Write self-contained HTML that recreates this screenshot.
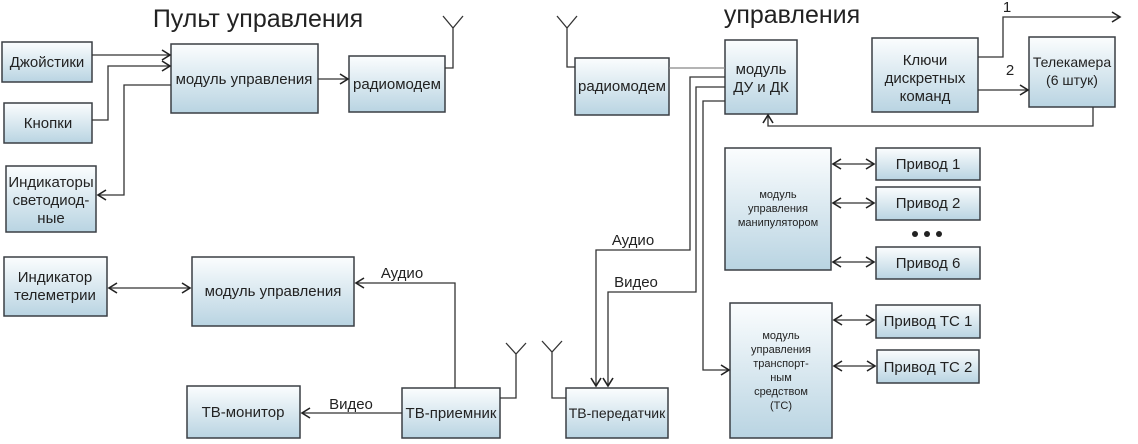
<!DOCTYPE html>
<html><head><meta charset="utf-8"><style>body{margin:0;background:#fff}svg{display:block}text{font-family:"Liberation Sans",sans-serif;fill:#222}</style></head><body>
<svg width="1138" height="444" viewBox="0 0 1138 444" xmlns="http://www.w3.org/2000/svg">
<defs>
<linearGradient id="g" x1="0" y1="0" x2="0" y2="1"><stop offset="0" stop-color="#fbfdfe"/><stop offset="1" stop-color="#b9d4e2"/></linearGradient>
<marker id="a" markerWidth="12" markerHeight="12" refX="10" refY="6" orient="auto" markerUnits="userSpaceOnUse"><path d="M2,1 L10,6 L2,11" fill="none" stroke="#222" stroke-width="1.6"/></marker>
<marker id="s" markerWidth="12" markerHeight="12" refX="2" refY="6" orient="auto" markerUnits="userSpaceOnUse"><path d="M10,1 L2,6 L10,11" fill="none" stroke="#222" stroke-width="1.6"/></marker>
</defs>
<g stroke="#3a3f44" stroke-width="1.5" fill="url(#g)">
<rect x="2" y="42" width="90" height="40"/><rect x="4" y="103" width="88" height="40"/><rect x="6" y="166" width="90" height="66"/>
<rect x="171" y="44" width="147" height="69"/><rect x="349" y="56" width="96" height="56"/>
<rect x="575" y="58" width="94" height="57"/><rect x="725" y="40" width="72" height="74"/>
<rect x="872" y="38" width="106" height="74"/><rect x="1029" y="37" width="86" height="70"/>
<rect x="725" y="148" width="106" height="122"/>
<rect x="876" y="148" width="104" height="32"/><rect x="876" y="187" width="104" height="33"/><rect x="876" y="247" width="104" height="32"/>
<rect x="730" y="303" width="102" height="135"/>
<rect x="876" y="305" width="104" height="33"/><rect x="877" y="350" width="102" height="33"/>
<rect x="4" y="257" width="103" height="59"/><rect x="192" y="257" width="162" height="69"/>
<rect x="566" y="388" width="102" height="50"/><rect x="402" y="388" width="98" height="50"/><rect x="187" y="386" width="113" height="52"/>
</g>
<g stroke="#333" stroke-width="1.3" fill="none">
<path d="M92,55 H170" marker-end="url(#a)"/>
<path d="M92,120 H108 V66 H170" marker-end="url(#a)"/>
<path d="M171,85 H124 V195 H98" marker-end="url(#a)"/>
<path d="M318,79 H348" marker-end="url(#a)"/>
<path d="M445,68 H453 V28 M443,16 L453,28 L463,16"/>
<path d="M575,67 H567 V28 M557,16 L567,28 L577,16"/>
<path d="M669,68 H725" stroke="#888"/>
<path d="M725,77 H690 V250 H596 V386" marker-end="url(#a)"/>
<path d="M725,87 H696 V292 H608 V386" marker-end="url(#a)"/>
<path d="M725,101 H703 V370 H729" marker-end="url(#a)"/>
<path d="M978,57 H1003 V17 H1120" marker-end="url(#a)"/>
<path d="M978,90 H1028" marker-end="url(#a)"/>
<path d="M1093,107 V126 H768 V115" marker-end="url(#a)"/>
<path d="M833,164 H874" marker-start="url(#s)" marker-end="url(#a)"/>
<path d="M833,203 H874" marker-start="url(#s)" marker-end="url(#a)"/>
<path d="M833,262 H874" marker-start="url(#s)" marker-end="url(#a)"/>
<path d="M834,320 H874" marker-start="url(#s)" marker-end="url(#a)"/>
<path d="M834,366 H875" marker-start="url(#s)" marker-end="url(#a)"/>
<path d="M109,288 H190" marker-start="url(#s)" marker-end="url(#a)"/>
<path d="M455,388 V283 H356" marker-end="url(#a)"/>
<path d="M402,413 H302" marker-end="url(#a)"/>
<path d="M500,398 H516 V354 M506,343 L516,354 L526,343"/>
<path d="M566,398 H552 V352 M542,341 L552,352 L562,341"/>
</g>
<g fill="#222"><circle cx="915" cy="234" r="3"/><circle cx="927" cy="234" r="3"/><circle cx="939" cy="234" r="3"/></g>
<g font-size="15" text-anchor="middle">
<text x="258" y="27" font-size="25">Пульт управления</text>
<text x="792" y="23" font-size="25">управления</text>
<text x="47" y="67">Джойстики</text><text x="48" y="128">Кнопки</text>
<text x="51" y="187">Индикаторы</text><text x="51" y="205">светодиод-</text><text x="51" y="223">ные</text>
<text x="244" y="84">модуль управления</text><text x="397" y="89">радиомодем</text>
<text x="622" y="91">радиомодем</text><text x="761" y="74">модуль</text><text x="761" y="92">ДУ и ДК</text>
<text x="925" y="65">Ключи</text><text x="925" y="83">дискретных</text><text x="925" y="101">команд</text>
<text x="1072" y="67" font-size="14">Телекамера</text><text x="1072" y="85" font-size="14">(6 штук)</text>
<text x="1007" y="12">1</text><text x="1010" y="75">2</text>
<text x="778" y="198" font-size="11">модуль</text><text x="778" y="212" font-size="11">управления</text><text x="778" y="226" font-size="11">манипулятором</text>
<text x="928" y="169">Привод 1</text><text x="928" y="208">Привод 2</text><text x="928" y="268">Привод 6</text>
<text x="781" y="339" font-size="11">модуль</text><text x="781" y="353" font-size="11">управления</text><text x="781" y="367" font-size="11">транспорт-</text><text x="781" y="381" font-size="11">ным</text><text x="781" y="395" font-size="11">средством</text><text x="781" y="409" font-size="11">(ТС)</text>
<text x="928" y="326">Привод ТС 1</text><text x="928" y="372">Привод ТС 2</text>
<text x="633" y="245">Аудио</text><text x="636" y="287">Видео</text>
<text x="55" y="282">Индикатор</text><text x="55" y="300">телеметрии</text>
<text x="273" y="296">модуль управления</text>
<text x="402" y="278">Аудио</text><text x="351" y="409">Видео</text>
<text x="617" y="418" font-size="14">ТВ-передатчик</text><text x="451" y="418">ТВ-приемник</text><text x="243" y="417">ТВ-монитор</text>
</g>
</svg>
</body></html>
